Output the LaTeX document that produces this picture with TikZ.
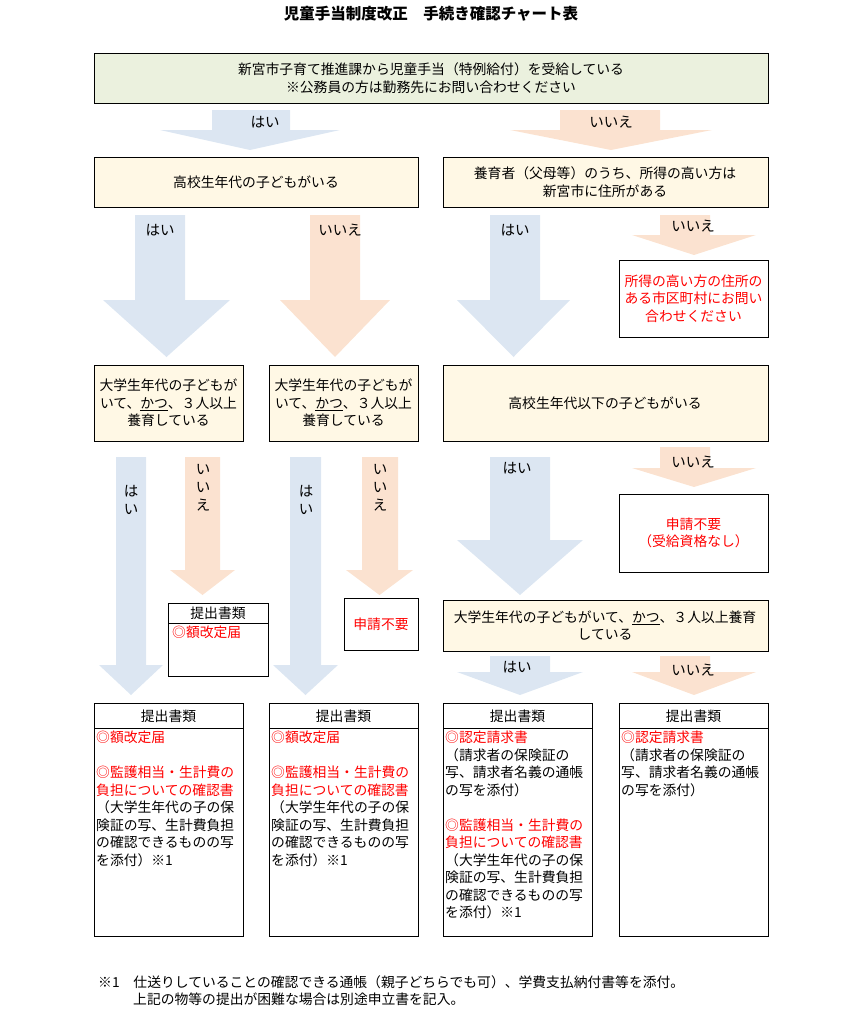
\documentclass[tikz,border=0pt]{standalone}
\usepackage{fontspec}
\setmainfont{Noto Sans CJK JP}
\begin{document}
\begin{tikzpicture}[x=1pt,y=-1pt,
  every node/.style={font=\fontsize{13.8}{17.5}\selectfont, inner sep=0pt},
  box/.style={draw=black, line width=0.7pt},
  yel/.style={box, fill=yel},
  red/.style={text=rd},
  lbl/.style={font=\fontsize{14.5}{18}\selectfont}]
\definecolor{grn}{HTML}{EBF1DE}
\definecolor{yel}{HTML}{FFF8E5}
\definecolor{bl}{HTML}{DCE6F2}
\definecolor{or}{HTML}{FBE2D0}
\definecolor{rd}{HTML}{FF0000}
\useasboundingbox (0,0) rectangle (862,1015);
\newcommand{\barrow}[8]{\fill[#8] (#1,#3) -- (#2,#3) -- (#2,#4) -- (#6,#4) -- ({(#5+#6)/2},#7) -- (#5,#4) -- (#1,#4) -- cycle;}
% title
\node[font=\bfseries\fontsize{15.5}{18}\selectfont] (title) at (431,14) {児童手当制度改正　手続き確認チャート表};
% top box
\draw[box, fill=grn] (94,53) rectangle (768,103);
\node[align=center] (a) at (431,78) {新宮市子育て推進課から児童手当（特例給付）を受給している\\※公務員の方は勤務先にお問い合わせください};
\barrow{212}{290}{110}{130}{160}{340}{150}{bl}
\node[lbl] (l1) at (265,122) {はい};
\barrow{560}{660}{110}{130}{510}{712}{150}{or}
\node[lbl] (l2) at (611,122) {いいえ};
% row 2
\draw[yel] (94,157) rectangle (418,207);
\node (b) at (256,182) {高校生年代の子どもがいる};
\draw[yel] (443,157) rectangle (768,207);
\node[align=center] (c) at (605,182) {養育者（父母等）のうち、所得の高い方は\\新宮市に住所がある};
\barrow{135}{185}{215}{300}{103}{230}{357}{bl}
\node[lbl] (l3) at (160,230) {はい};
\barrow{310}{360}{215}{300}{280}{390}{357}{or}
\node[lbl] (l4) at (340,230) {いいえ};
\barrow{490}{540}{215}{300}{457}{570}{357}{bl}
\node[lbl] (l5) at (515,230) {はい};
\barrow{660}{710}{215}{235}{632}{756}{255}{or}
\node[lbl] (l6) at (693,226) {いいえ};
\draw[box, fill=white] (619,260) rectangle (768,337);
\node[red, align=center] (d) at (693.5,298.5) {所得の高い方の住所の\\ある市区町村にお問い\\合わせください};
% row 3
\draw[yel] (94,365) rectangle (243,441);
\node[align=center] (e) at (168.5,403) {大学生年代の子どもが\\いて、\underline{かつ}、３人以上\\養育している};
\draw[yel] (269,365) rectangle (418,441);
\node[align=center] (f) at (343.5,403) {大学生年代の子どもが\\いて、\underline{かつ}、３人以上\\養育している};
\draw[yel] (443,365) rectangle (768,441);
\node (g) at (605,403) {高校生年代以下の子どもがいる};
% arrows under E, F
\barrow{116}{146}{457}{665}{99}{163}{695}{bl}
\node[lbl, align=center] (l7) at (131,500) {は\\い};
\barrow{185}{220}{457}{570}{170}{235}{595}{or}
\node[lbl, align=center] (l8) at (203,488) {い\\い\\え};
\barrow{290}{321}{457}{665}{273}{338}{695}{bl}
\node[lbl, align=center] (l9) at (306,500) {は\\い};
\barrow{362}{398}{457}{570}{346}{413}{595}{or}
\node[lbl, align=center] (l10) at (380,488) {い\\い\\え};
\draw[box, fill=white] (168,603) rectangle (268,676);
\draw[line width=0.7pt] (168,623) -- (268,623);
\node (h1) at (218,613) {提出書類};
\node[red, anchor=north west] (h2) at (172,626) {◎額改定届};
\draw[box, fill=white] (344,598) rectangle (418,650);
\node[red] (i) at (381,624) {申請不要};
% under G
\barrow{490}{550}{457}{540}{457}{583}{595}{bl}
\node[lbl] (l11) at (517,468) {はい};
\barrow{660}{710}{447}{468}{632}{756}{487}{or}
\node[lbl] (l12) at (693,462) {いいえ};
\draw[box, fill=white] (619,494) rectangle (768,572);
\node[red, align=center] (j) at (693.5,533) {申請不要\\（受給資格なし）};
\draw[yel] (443,600) rectangle (768,651);
\node[align=center] (k) at (605,625.5) {大学生年代の子どもがいて、\underline{かつ}、３人以上養育\\している};
\barrow{490}{550}{656}{672}{457}{583}{695}{bl}
\node[lbl] (l13) at (517,667) {はい};
\barrow{660}{710}{656}{672}{632}{756}{695}{or}
\node[lbl] (l14) at (693,670) {いいえ};
% bottom boxes
\foreach \x in {94,269,443,619}{
  \draw[box, fill=white] (\x,703) rectangle (\x+149,936);
  \draw[line width=0.7pt] (\x,728) -- (\x+149,728);
  \node at (\x+74.5,716) {提出書類};
}
\node[anchor=north west, align=left] (m1) at (96,731) {\textcolor{rd}{◎額改定届}\\[17.5pt]\textcolor{rd}{◎監護相当・生計費の}\\\textcolor{rd}{負担についての確認書}\\（大学生年代の子の保\\険証の写、生計費負担\\の確認できるものの写\\を添付）※1};
\node[anchor=north west, align=left] (m2) at (271,731) {\textcolor{rd}{◎額改定届}\\[17.5pt]\textcolor{rd}{◎監護相当・生計費の}\\\textcolor{rd}{負担についての確認書}\\（大学生年代の子の保\\険証の写、生計費負担\\の確認できるものの写\\を添付）※1};
\node[anchor=north west, align=left] (m3) at (445,731) {\textcolor{rd}{◎認定請求書}\\（請求者の保険証の\\写、請求者名義の通帳\\の写を添付）\\[17.5pt]\textcolor{rd}{◎監護相当・生計費の}\\\textcolor{rd}{負担についての確認書}\\（大学生年代の子の保\\険証の写、生計費負担\\の確認できるものの写\\を添付）※1};
\node[anchor=north west, align=left] (m4) at (621,731) {\textcolor{rd}{◎認定請求書}\\（請求者の保険証の\\写、請求者名義の通帳\\の写を添付）};
% footnote
\node[anchor=west] (n1) at (98,982) {※1　仕送りしていることの確認できる通帳（親子どちらでも可）、学費支払納付書等を添付。};
\node[anchor=west] (n2) at (133,999) {上記の物等の提出が困難な場合は別途申立書を記入。};
\end{tikzpicture}
\end{document}
